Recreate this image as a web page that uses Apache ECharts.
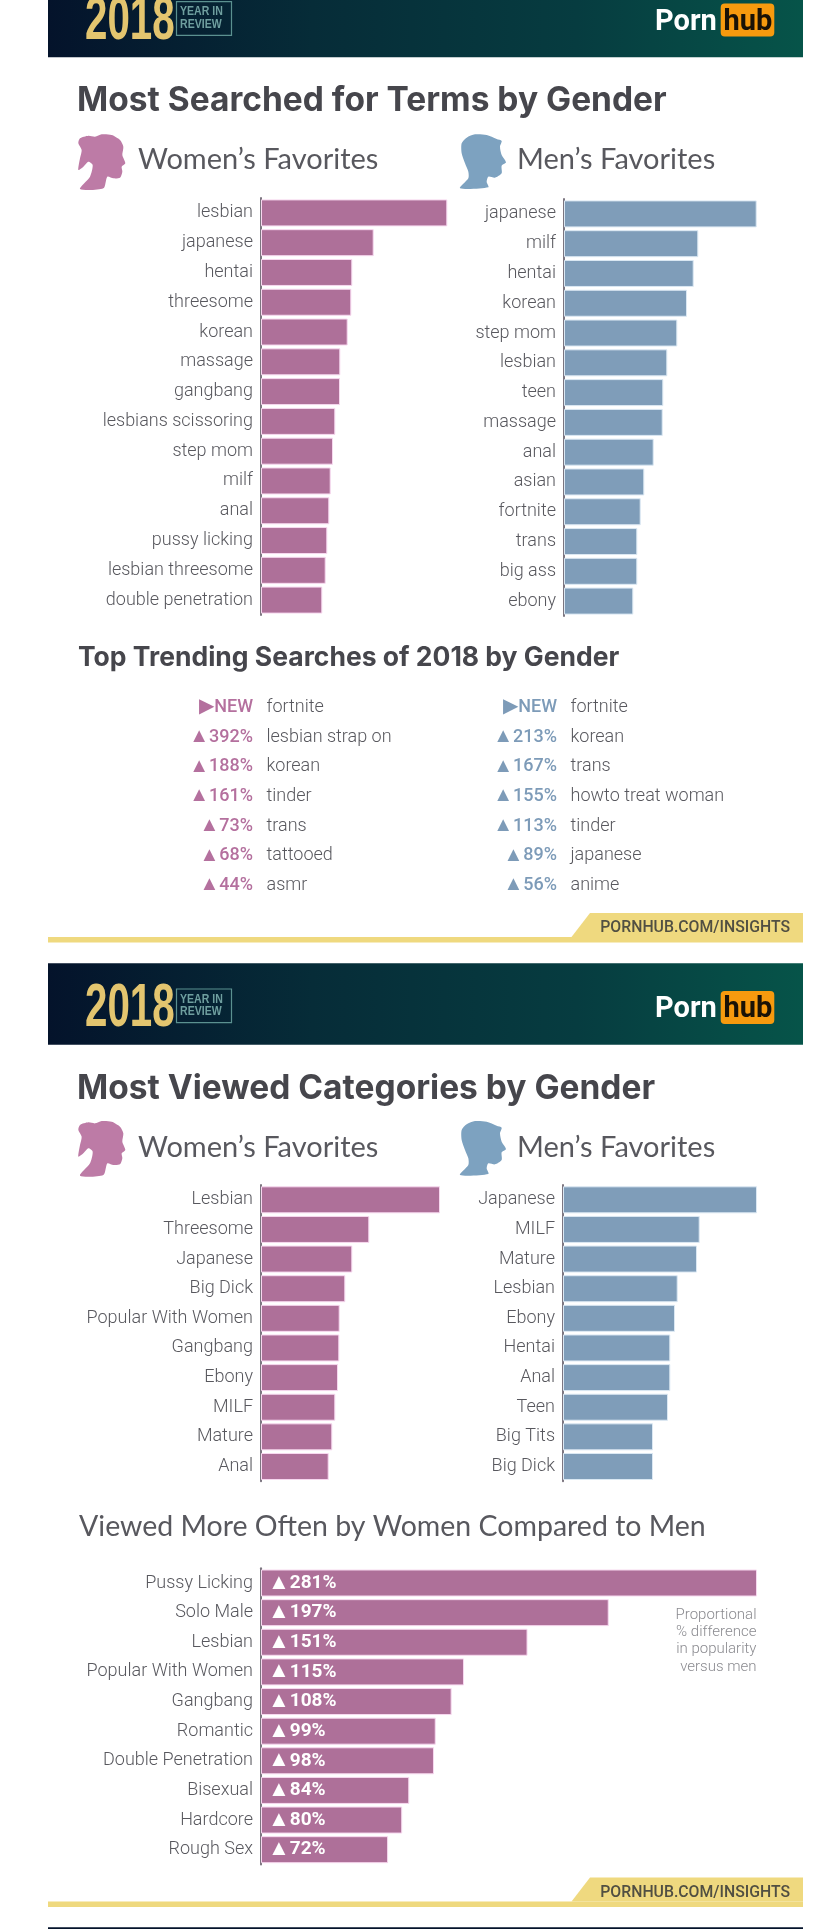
<!DOCTYPE html>
<html><head><meta charset="utf-8">
<style>html,body{margin:0;padding:0;background:#fff}#c{width:828px;height:1929px}</style>
<script src="https://cdn.jsdelivr.net/npm/echarts@6/dist/echarts.min.js"></script>
</head><body><div id="c"></div>
<script>
// ---------- data (bar lengths are estimated from the picture: no scale is printed) ----------
const searchWomenTerms = ['lesbian','japanese','hentai','threesome','korean','massage','gangbang','lesbians scissoring','step mom','milf','anal','pussy licking','lesbian threesome','double penetration'];
const searchWomenValues = [186.3,112.7,91.3,90.3,86.7,79.3,79,74.3,72,69.7,68.3,66.3,64.7,61.3];
const searchMenTerms = ['japanese','milf','hentai','korean','step mom','lesbian','teen','massage','anal','asian','fortnite','trans','big ass','ebony'];
const searchMenValues = [192.7,134.3,129.7,123,113.3,103.3,99.3,98.7,89.7,80.3,76.7,73.3,73.3,69.3];
const trendWomenChange = ['NEW','392%','188%','161%','73%','68%','44%'];
const trendWomenTerms = ['fortnite','lesbian strap on','korean','tinder','trans','tattooed','asmr'];
const trendMenChange = ['NEW','213%','167%','155%','113%','89%','56%'];
const trendMenTerms = ['fortnite','korean','trans','howto treat woman','tinder','japanese','anime'];
const catWomenNames = ['Lesbian','Threesome','Japanese','Big Dick','Popular With Women','Gangbang','Ebony','MILF','Mature','Anal'];
const catWomenValues = [179,108.3,91.3,84.3,78.7,78.3,77,74.3,71.3,67.7];
const catMenNames = ['Japanese','MILF','Mature','Lesbian','Ebony','Hentai','Anal','Teen','Big Tits','Big Dick'];
const catMenValues = [194,136.7,134,114.7,112,107.3,107.3,105,90,90];
const moreOftenNames = ['Pussy Licking','Solo Male','Lesbian','Popular With Women','Gangbang','Romantic','Double Penetration','Bisexual','Hardcore','Rough Sex'];
const moreOftenPct = [281,197,151,115,108,99,98,84,80,72];
const noteLines = ['Proportional','% difference','in popularity','versus men'];

// ---------- style ----------
const PINK='#ae7099', BLUE='#7f9db9', INK='#46464c', SOFT='#58585e';
const LABEL_FONT='Roboto', HEAD_FONT='Lato', TITLE_FONT='Inter';

const grids=[],xAxes=[],yAxes=[],series=[],titles=[],gfx=[];

function barChart(left,top,height,names,values,color,halo,max,width,inside){
  const i=grids.length;
  grids.push({left,top,width,height,containLabel:false});
  xAxes.push({gridIndex:i,type:'value',min:0,max,show:false});
  yAxes.push({gridIndex:i,type:'category',inverse:true,data:names,
    axisTick:{show:false},
    axisLine:{show:true,lineStyle:{color:'#7c7680',width:2}},
    axisLabel:{color:SOFT,fontFamily:LABEL_FONT,fontWeight:300,fontSize:18,margin:8,padding:[5,0,0,0]}});
  series.push({type:'bar',xAxisIndex:i,yAxisIndex:i,data:values,barWidth:27,silent:true,
    itemStyle:{color,borderColor:halo,borderWidth:1},
    label:inside?{show:true,position:'insideLeft',distance:7,color:'#fff',fontFamily:LABEL_FONT,fontWeight:700,
      formatter:p=>'{m|▲}{t|'+p.value+'%}',
      rich:{m:{fontSize:22,color:'#fff',fontWeight:700},t:{fontSize:19,color:'#fff',fontWeight:700,fontFamily:LABEL_FONT}}}:{show:false}});
}
function trendList(left,top,height,changes,terms,color){
  const i=grids.length;
  grids.push({left,top,width:220,height});
  xAxes.push({gridIndex:i,type:'value',min:0,max:1,show:false});
  yAxes.push({gridIndex:i,type:'category',inverse:true,data:changes,
    axisTick:{show:false},axisLine:{show:false},
    axisLabel:{margin:7,color,fontFamily:LABEL_FONT,
      formatter:v=>'{m|'+(v==='NEW'?'▶':'▲')+'}{t|'+v+'}',
      rich:{m:{fontSize:20,color},t:{fontSize:18,fontWeight:500,color,fontFamily:LABEL_FONT}}}});
  series.push({type:'scatter',xAxisIndex:i,yAxisIndex:i,symbolSize:1,silent:true,
    itemStyle:{color:'transparent'},
    data:terms.map((t,k)=>({value:[0,k],name:t})),
    label:{show:true,position:'right',distance:6,formatter:'{b}',color:SOFT,fontFamily:LABEL_FONT,fontWeight:300,fontSize:18,opacity:1}});
}
function head(text,left,cy,size,weight,color,family){
  titles.push({text,left,top:cy-20,padding:0,textStyle:{fontFamily:family||HEAD_FONT,fontSize:size,fontWeight:weight,color,lineHeight:40}});
}
function banner(top){
  gfx.push({type:'rect',silent:true,z:1,shape:{x:48,y:top,width:755,height:81.4},
    style:{fill:new echarts.graphic.LinearGradient(0,0,1,0,[{offset:0,color:'#04132b'},{offset:.35,color:'#062c38'},{offset:.7,color:'#063c40'},{offset:1,color:'#065449'}])}});
  gfx.push({type:'text',silent:true,z:2,x:85,y:top+15,scaleX:.65,scaleY:1,
    style:{text:'2018',fill:'#e3c56f',font:'bold 62px "Liberation Sans"',textVerticalAlign:'top'}});
  gfx.push({type:'rect',silent:true,z:2,shape:{x:176.5,y:top+25.7,width:55,height:33.7},style:{fill:'none',stroke:'#5b9190',lineWidth:1.2}});
  gfx.push({type:'text',silent:true,z:2,x:180,y:top+30,scaleX:.88,style:{text:'YEAR IN\nREVIEW',fill:'#6f9f9f',font:'bold 12px "Liberation Sans"',lineHeight:12.5}});
  gfx.push({type:'text',silent:true,z:2,x:655,y:top+32,style:{text:'Porn',fill:'#fff',font:'bold 29px Roboto'}});
  gfx.push({type:'rect',silent:true,z:2,shape:{x:720.7,y:top+27.7,width:53.6,height:33,r:4},style:{fill:'#f79a0e'}});
  gfx.push({type:'text',silent:true,z:3,x:723.5,y:top+32,style:{text:'hub',fill:'#1a1206',font:'bold 29px Roboto'}});
}
function footer(stripTop,right){
  gfx.push({type:'rect',silent:true,shape:{x:48,y:stripTop,width:right-48,height:5.6},style:{fill:'#efd97f'}});
  gfx.push({type:'polygon',silent:true,shape:{points:[[571.5,stripTop],[590,stripTop-24],[right,stripTop-24],[right,stripTop]]},style:{fill:'#efd97f'}});
  gfx.push({type:'text',silent:true,x:right-13,y:stripTop-8.5,style:{text:'PORNHUB.COM/INSIGHTS',fill:'#514f42',font:'500 15.8px Roboto',textAlign:'right',textVerticalAlign:'middle'}});
}
// silhouettes, outline in a 3x local frame
const womanShape=[[55,32],[75,35],[95,28],[125,30],[150,45],[160,65],[157,90],[166,115],[155,125],[157,140],[150,158],[130,160],[112,155],[100,190],[30,192],[60,155],[68,120],[55,110],[40,125],[25,135],[30,100],[35,75],[25,55],[30,40]];
const manShape=[[35,55],[50,38],[75,28],[110,30],[140,42],[155,48],[150,65],[155,90],[168,112],[155,122],[155,145],[135,158],[115,155],[110,170],[115,187],[30,190],[55,160],[55,140],[45,115],[35,85]];
function icon(points,ox,oy,fill){
  gfx.push({type:'polygon',silent:true,x:ox,y:oy,scaleX:1/3,scaleY:1/3,shape:{points,smooth:.25},style:{fill}});
}

// ---------- layout ----------
banner(-24.1);
head('Most Searched for Terms by Gender',77,101,33.5,700,INK,TITLE_FONT);
icon(womanShape,70,125,'#bd7ba6'); icon(manShape,450,125,'#7da2c0');
head('Women’s Favorites',138,160,29,400,SOFT);
head('Men’s Favorites',517,160,29,400,SOFT);
barChart(261,198,417,searchWomenTerms,searchWomenValues,PINK,'#f7d8ef',200,200);
barChart(564,199,417,searchMenTerms,searchMenValues,BLUE,'#dbe8f3',200,200);
head('Top Trending Searches of 2018 by Gender',78,657.7,26.5,700,INK,TITLE_FONT);
trendList(260,692.5,207.7,trendWomenChange,trendWomenTerms,'#b4709e');
trendList(564,692.5,207.7,trendMenChange,trendMenTerms,'#7d9bb8');
footer(937,803);

banner(963.3);
head('Most Viewed Categories by Gender',77,1089.3,33.5,700,INK,TITLE_FONT);
icon(womanShape,70,1111.7,'#bd7ba6'); icon(manShape,450,1111.7,'#7da2c0');
head('Women’s Favorites',138,1147.7,29,400,SOFT);
head('Men’s Favorites',517,1147.7,29,400,SOFT);
barChart(261,1185,296.3,catWomenNames,catWomenValues,PINK,'#f7d8ef',200,200);
barChart(563,1185,296.3,catMenNames,catMenValues,BLUE,'#dbe8f3',200,200);
head('Viewed More Often by Women Compared to Men',79,1526.7,28.5,400,SOFT);
barChart(261,1568.2,296.3,moreOftenNames,moreOftenPct,PINK,'#f7d8ef',281,496,true);
noteLines.forEach((t,i)=>gfx.push({type:'text',silent:true,x:756.5,y:1615+i*17.3,
  style:{text:t,fill:'#8b8b90',font:'300 15px Roboto',textAlign:'right',textVerticalAlign:'middle'}}));
footer(1901.5,803);
gfx.push({type:'rect',silent:true,shape:{x:48,y:1927.3,width:755,height:3},style:{fill:'#04132b'}});

const chart=echarts.init(document.getElementById('c'),null,{renderer:'canvas',width:828,height:1929});
chart.setOption({animation:false,backgroundColor:'#fff',title:titles,grid:grids,xAxis:xAxes,yAxis:yAxes,series,graphic:{elements:gfx}});
</script></body></html>
